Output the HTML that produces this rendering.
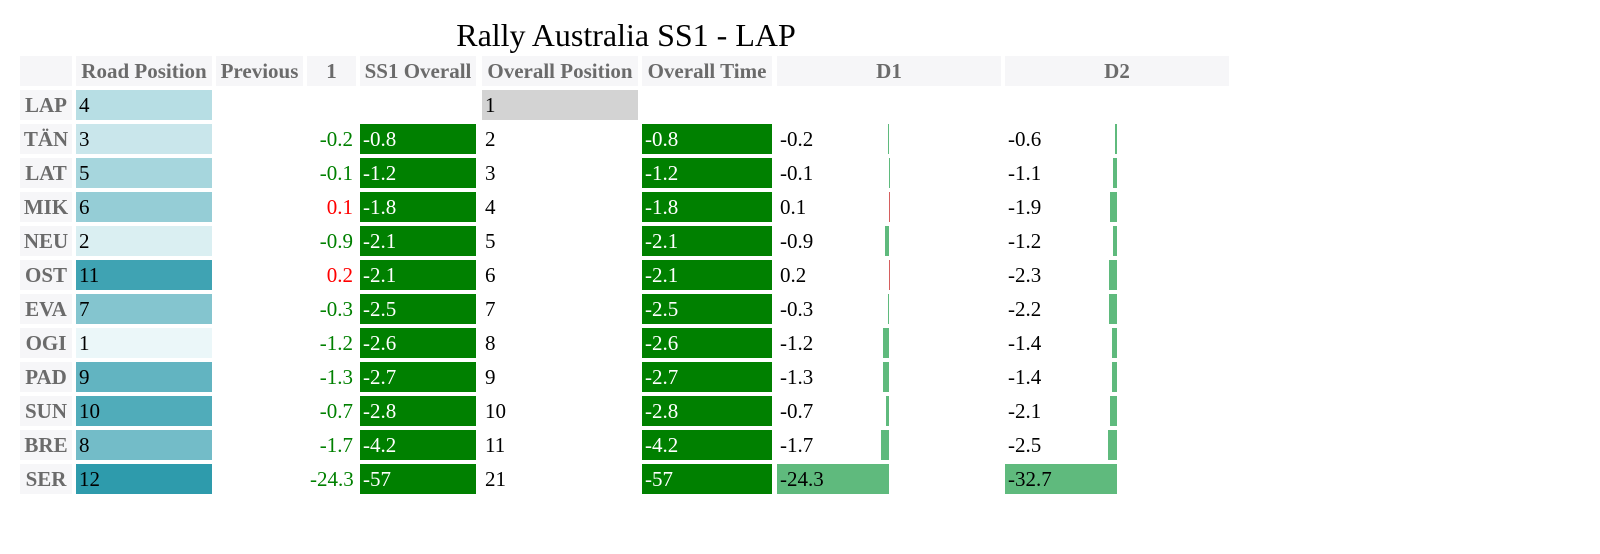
<!DOCTYPE html>
<html><head><meta charset="utf-8"><style>
body{margin:0;width:1600px;height:554px;background:#fff;position:relative;overflow:hidden;font-family:"Liberation Serif",serif}
.c{position:absolute;height:30px;line-height:30px;font-size:21px;box-sizing:border-box;padding:0 3px;white-space:nowrap;color:#000;overflow:visible}
.h{background:#f6f6f8;color:#6b6b6b;font-weight:bold;text-align:center;padding:0}
.title{position:absolute;left:0;width:1252px;top:16px;text-align:center;font-size:32px;line-height:38px}
.bar{position:absolute;height:30px}
</style></head><body>
<div class="title">Rally Australia SS1 - LAP</div>
<div id="t"></div>
<script>
const drivers=["LAP","TÄN","LAT","MIK","NEU","OST","EVA","OGI","PAD","SUN","BRE","SER"];
const roadPos=[4,3,5,6,2,11,7,1,9,10,8,12];
const stage1=[null,-0.2,-0.1,0.1,-0.9,0.2,-0.3,-1.2,-1.3,-0.7,-1.7,-24.3];
const ss1Overall=[null,-0.8,-1.2,-1.8,-2.1,-2.1,-2.5,-2.6,-2.7,-2.8,-4.2,-57];
const overallPos=[1,2,3,4,5,6,7,8,9,10,11,21];
const overallTime=[null,-0.8,-1.2,-1.8,-2.1,-2.1,-2.5,-2.6,-2.7,-2.8,-4.2,-57];
const d1=[null,-0.2,-0.1,0.1,-0.9,0.2,-0.3,-1.2,-1.3,-0.7,-1.7,-24.3];
const d2=[null,-0.6,-1.1,-1.9,-1.2,-2.3,-2.2,-1.4,-1.4,-2.1,-2.5,-32.7];
const headers=["","Road Position","Previous","1","SS1 Overall","Overall Position","Overall Time","D1","D2"];
const cols=[[20,52],[76,136],[216,87],[307,49],[360,116],[482,156],[642,130],[777,224],[1005,224]];
const T=document.getElementById('t');
function cell(x,y,w,txt,cls,name){
  const d=document.createElement('div');
  d.className='c '+(cls||'');
  d.style.left=x+'px';d.style.top=y+'px';d.style.width=w+'px';
  d.textContent=txt;
  
  
  T.appendChild(d);return d;
}
headers.forEach((h,i)=>{cell(cols[i][0],56,cols[i][1],h,'h','column-header');});
function rp(v){const t=(v-1)/11;const a=[235,247,249],b=[46,155,172];
  return 'rgb('+a.map((c,k)=>Math.round(c+(b[k]-c)*t)).join(',')+')';}
const maxD1=Math.max(...d1.filter(v=>v!=null).map(Math.abs));
const maxD2=Math.max(...d2.filter(v=>v!=null).map(Math.abs));
function barCell(col,y,v,mx,name){
  const [x,w]=cols[col];
  if(v==null)return;
  const mid=x+w/2, len=Math.abs(v)/mx*(w/2);
  const b=document.createElement('div');b.className='bar';
  b.style.top=y+'px';b.style.width=Math.max(len,0.8)+'px';
  b.style.left=(v<0?mid-len:mid)+'px';
  b.style.background=v<0?'#5fba7d':'#d65f5f';
  
  
  T.appendChild(b);
  cell(x,y,w,String(v),'',name+'-value');
}
drivers.forEach((d,i)=>{
  const y=90+34*i;
  cell(cols[0][0],y,cols[0][1],d,'h','row-driver');
  const r=cell(cols[1][0],y,cols[1][1],String(roadPos[i]),'','road-position');r.style.background=rp(roadPos[i]);
  if(stage1[i]!=null){const s=cell(cols[3][0],y,cols[3][1],String(stage1[i]),'','stage-time');
    s.style.textAlign='right';s.style.color=stage1[i]>0?'#ff0000':'#008000';}
  if(ss1Overall[i]!=null){const s=cell(cols[4][0],y,cols[4][1],String(ss1Overall[i]),'','ss1-overall');
    s.style.background='#008000';s.style.color='#fff';}
  const p=cell(cols[5][0],y,cols[5][1],String(overallPos[i]),'','overall-position');
  if(overallPos[i]===1)p.style.background='#d3d3d3';
  if(overallTime[i]!=null){const s=cell(cols[6][0],y,cols[6][1],String(overallTime[i]),'','overall-time');
    s.style.background='#008000';s.style.color='#fff';}
  barCell(7,y,d1[i],maxD1,'d1');
  barCell(8,y,d2[i],maxD2,'d2');
});
</script>
</body></html>
